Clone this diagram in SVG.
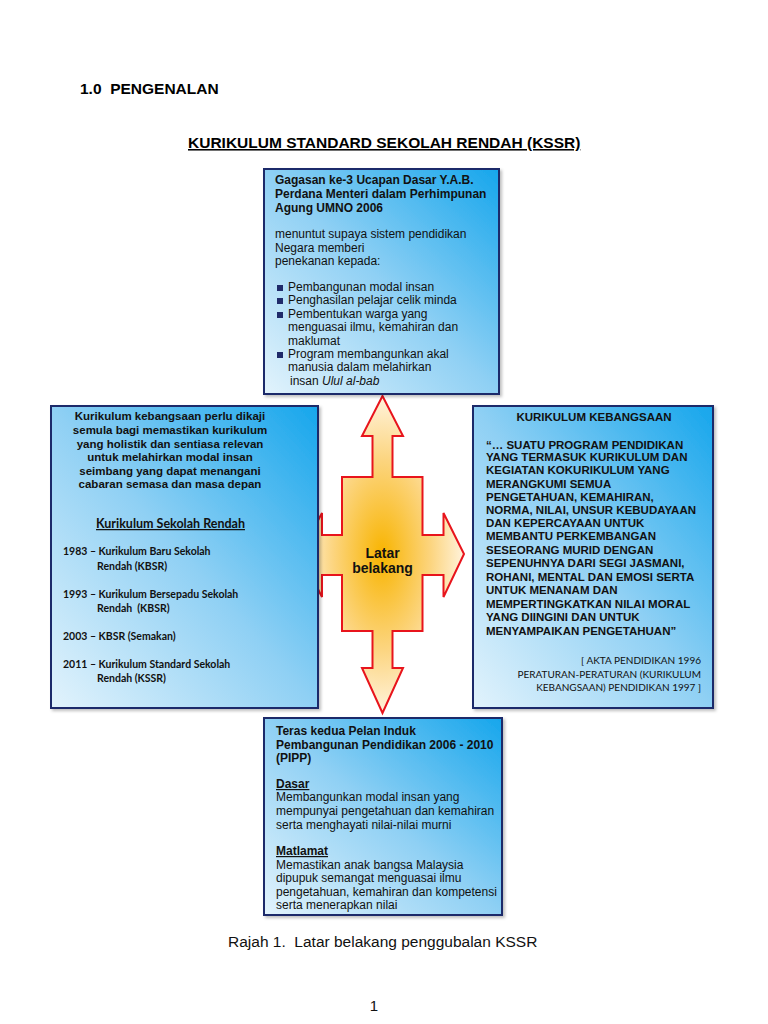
<svg xmlns="http://www.w3.org/2000/svg" width="768" height="1024" viewBox="0 0 768 1024">
<defs>
<linearGradient id="boxg" x1="0" y1="1" x2="1" y2="0">
<stop offset="0" stop-color="#e2f3fc"/>
<stop offset="0.5" stop-color="#8fd0f4"/>
<stop offset="1" stop-color="#16a6ec"/>
</linearGradient>
<radialGradient id="crossg" cx="0.5" cy="0.5" r="0.5">
<stop offset="0" stop-color="#f8b400"/>
<stop offset="0.6" stop-color="#fcd580"/>
<stop offset="1" stop-color="#fff3dc"/>
</radialGradient>
<filter id="sh" x="-5%" y="-5%" width="115%" height="115%">
<feDropShadow dx="2" dy="2" stdDeviation="1.5" flood-color="#000" flood-opacity="0.25"/>
</filter>
</defs>
<style>
.box{fill:url(#boxg);stroke:#1f2a6a;stroke-width:2;filter:url(#sh)}
.h{font-family:"Liberation Sans",Arial,sans-serif;font-weight:bold;font-size:15.5px;fill:#000;white-space:pre}
.t{font-family:"Liberation Sans",Arial,sans-serif;font-size:12px;fill:#111}
.tb{font-family:"Liberation Sans",Arial,sans-serif;font-size:12px;font-weight:bold;fill:#111}
.lb{font-family:"Liberation Sans",Arial,sans-serif;font-size:11.5px;font-weight:bold;fill:#111;text-anchor:middle}
.c{font-family:Lato,"Open Sans",sans-serif;font-size:10.5px;font-weight:bold;fill:#111;white-space:pre}
.cr{font-family:Lato,"Open Sans",sans-serif;font-size:10px;fill:#111;text-anchor:end}
.q{font-family:"Liberation Sans",Arial,sans-serif;font-size:11.5px;font-weight:bold;fill:#111}
</style>
<rect width="768" height="1024" fill="#fff"/>

<text class="h" x="80" y="94" xml:space="preserve">1.0  PENGENALAN</text>
<text class="h" x="188" y="148" text-decoration="underline">KURIKULUM STANDARD SEKOLAH RENDAH (KSSR)</text>

<g id="connectors">
<path id="cross" d="M382.5,396 L403,436 L392.5,436 L392.5,477 L422.5,477 L422.5,535 L443.5,535 L443.5,513 L464,554 L443.5,597 L443.5,575 L422.5,575 L422.5,631 L392.5,631 L392.5,668 L403,668 L382.5,713 L362,668 L372.5,668 L372.5,631 L342,631 L342,575 L322,575 L322,597 L300,554 L322,513 L322,535 L342,535 L342,477 L372.5,477 L372.5,436 L362,436 Z" fill="url(#crossg)" stroke="#e8141c" stroke-width="2" stroke-linejoin="miter"/>
<text class="tb" x="382.5" y="558" text-anchor="middle" style="font-size:14px">Latar</text>
<text class="tb" x="382.5" y="573" text-anchor="middle" style="font-size:14px">belakang</text>
</g>

<g id="top-box">
<rect class="box" x="264" y="169" width="235" height="225"/>
<text class="tb" x="275" y="184">Gagasan ke-3 Ucapan Dasar Y.A.B.</text>
<text class="tb" x="275" y="198">Perdana Menteri dalam Perhimpunan</text>
<text class="tb" x="275" y="212">Agung UMNO 2006</text>
<text class="t" x="275" y="238">menuntut supaya sistem pendidikan</text>
<text class="t" x="275" y="252">Negara memberi</text>
<text class="t" x="275" y="265">penekanan kepada:</text>
<g fill="#1f2a6a">
<rect x="277" y="285" width="6" height="6"/>
<rect x="277" y="298" width="6" height="6"/>
<rect x="277" y="312" width="6" height="6"/>
<rect x="277" y="352" width="6" height="6"/>
</g>
<text class="t" x="288" y="291">Pembangunan modal insan</text>
<text class="t" x="288" y="304">Penghasilan pelajar celik minda</text>
<text class="t" x="288" y="318">Pembentukan warga yang</text>
<text class="t" x="288" y="331">menguasai ilmu, kemahiran dan</text>
<text class="t" x="288" y="345">maklumat</text>
<text class="t" x="288" y="358">Program membangunkan akal</text>
<text class="t" x="288" y="371">manusia dalam melahirkan</text>
<text class="t" x="290" y="385">insan <tspan font-style="italic">Ulul al-bab</tspan></text>
</g>

<g id="left-box">
<rect class="box" x="51" y="406" width="267" height="302"/>
<text class="lb" x="170" y="420">Kurikulum kebangsaan perlu dikaji</text>
<text class="lb" x="170" y="434">semula bagi memastikan kurikulum</text>
<text class="lb" x="170" y="448">yang holistik dan sentiasa relevan</text>
<text class="lb" x="170" y="461">untuk melahirkan modal insan</text>
<text class="lb" x="170" y="475">seimbang yang dapat menangani</text>
<text class="lb" x="170" y="488">cabaran semasa dan masa depan</text>
<text class="c" x="170.5" y="528" text-anchor="middle" style="font-size:12.5px" text-decoration="underline">Kurikulum Sekolah Rendah</text>
<text class="c" x="63" y="555">1983 – Kurikulum Baru Sekolah</text>
<text class="c" x="97" y="570">Rendah (KBSR)</text>
<text class="c" x="63" y="598">1993 – Kurikulum Bersepadu Sekolah</text>
<text class="c" x="97" y="612" xml:space="preserve">Rendah  (KBSR)</text>
<text class="c" x="63" y="640">2003 – KBSR (Semakan)</text>
<text class="c" x="63" y="668">2011 – Kurikulum Standard Sekolah</text>
<text class="c" x="97" y="682">Rendah (KSSR)</text>
</g>

<g id="right-box">
<rect class="box" x="473" y="406" width="240" height="302"/>
<text class="q" x="594" y="421" text-anchor="middle">KURIKULUM KEBANGSAAN</text>
<text class="q" x="486" y="449">“… SUATU PROGRAM PENDIDIKAN</text>
<text class="q" x="486" y="461">YANG TERMASUK KURIKULUM DAN</text>
<text class="q" x="486" y="474">KEGIATAN KOKURIKULUM YANG</text>
<text class="q" x="486" y="488">MERANGKUMI SEMUA</text>
<text class="q" x="486" y="501">PENGETAHUAN, KEMAHIRAN,</text>
<text class="q" x="486" y="514">NORMA, NILAI, UNSUR KEBUDAYAAN</text>
<text class="q" x="486" y="527">DAN KEPERCAYAAN UNTUK</text>
<text class="q" x="486" y="540">MEMBANTU PERKEMBANGAN</text>
<text class="q" x="486" y="554">SESEORANG MURID DENGAN</text>
<text class="q" x="486" y="567">SEPENUHNYA DARI SEGI JASMANI,</text>
<text class="q" x="486" y="581">ROHANI, MENTAL DAN EMOSI SERTA</text>
<text class="q" x="486" y="594">UNTUK MENANAM DAN</text>
<text class="q" x="486" y="608">MEMPERTINGKATKAN NILAI MORAL</text>
<text class="q" x="486" y="621">YANG DIINGINI DAN UNTUK</text>
<text class="q" x="486" y="635">MENYAMPAIKAN PENGETAHUAN”</text>
<text class="cr" x="701" y="664">[ AKTA PENDIDIKAN 1996</text>
<text class="cr" x="701" y="678">PERATURAN-PERATURAN (KURIKULUM</text>
<text class="cr" x="701" y="691">KEBANGSAAN) PENDIDIKAN 1997 ]</text>
</g>

<g id="bottom-box">
<rect class="box" x="264" y="718" width="238" height="197"/>
<text class="tb" x="276" y="735">Teras kedua Pelan Induk</text>
<text class="tb" x="276" y="749">Pembangunan Pendidikan 2006 - 2010</text>
<text class="tb" x="276" y="762">(PIPP)</text>
<text class="tb" x="276" y="788" text-decoration="underline">Dasar</text>
<text class="t" x="276" y="801">Membangunkan modal insan yang</text>
<text class="t" x="276" y="815">mempunyai pengetahuan dan kemahiran</text>
<text class="t" x="276" y="829">serta menghayati nilai-nilai murni</text>
<text class="tb" x="276" y="855" text-decoration="underline">Matlamat</text>
<text class="t" x="276" y="869">Memastikan anak bangsa Malaysia</text>
<text class="t" x="276" y="882">dipupuk semangat menguasai ilmu</text>
<text class="t" x="276" y="896">pengetahuan, kemahiran dan kompetensi</text>
<text class="t" x="276" y="909">serta menerapkan nilai</text>
</g>

<text class="t" x="228" y="947" xml:space="preserve" style="font-size:15.5px;white-space:pre">Rajah 1.  Latar belakang penggubalan KSSR</text>
<text class="t" x="374" y="1011" text-anchor="middle" style="font-size:15px">1</text>
</svg>
